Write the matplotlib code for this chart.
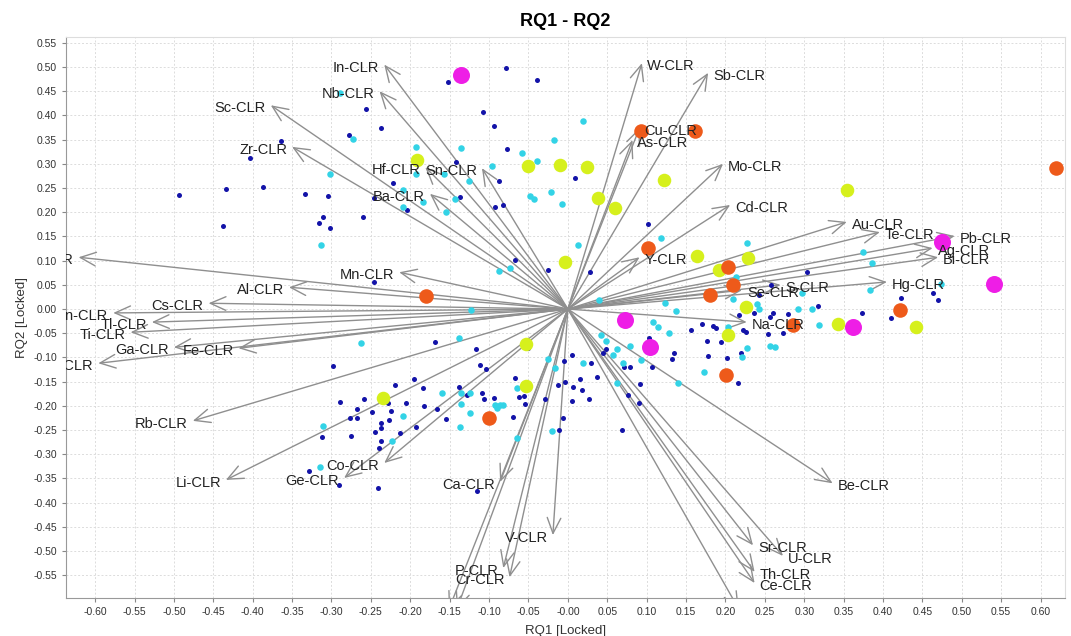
import matplotlib

matplotlib.use("Agg")
import matplotlib.pyplot as plt
import numpy as np
from matplotlib.patches import FancyArrowPatch
from matplotlib.ticker import FormatStrFormatter, MultipleLocator
from matplotlib.transforms import offset_copy

plt.rcParams["font.family"] = ["Liberation Sans", "DejaVu Sans"]

# loading vectors (RQ1, RQ2) of the CLR variables
var_names = ["In-CLR", "Nb-CLR", "Sc-CLR", "Zr-CLR", "Hf-CLR", "Sn-CLR", "Ba-CLR",
             "Mn-CLR", "Al-CLR", "Cs-CLR", "Zn-CLR", "Tl-CLR", "Ti-CLR", "Ga-CLR",
             "Fe-CLR", "Mg-CLR", "K-CLR", "Rb-CLR", "Li-CLR", "Co-CLR", "Ge-CLR",
             "Ca-CLR", "P-CLR", "Cr-CLR", "V-CLR", "La-CLR", "Ni-CLR", "Sr-CLR",
             "U-CLR", "Th-CLR", "Ce-CLR", "Pr-CLR", "Be-CLR", "Na-CLR", "Se-CLR",
             "S-CLR", "Hg-CLR", "Bi-CLR", "Ag-CLR", "Pb-CLR", "Te-CLR", "Au-CLR",
             "Cd-CLR", "Mo-CLR", "Y-CLR", "As-CLR", "Cu-CLR", "W-CLR", "Sb-CLR"]
var_x = [-0.233, -0.239, -0.377, -0.350, -0.181, -0.109, -0.175,
         -0.214, -0.354, -0.456, -0.577, -0.528, -0.555, -0.500,
         -0.418, -0.596, -0.621, -0.476, -0.434, -0.233, -0.284,
         -0.086, -0.082, -0.074, -0.019, -0.151, -0.141, 0.235,
         0.273, 0.237, 0.237, 0.217, 0.336, 0.227, 0.221,
         0.270, 0.405, 0.470, 0.463, 0.491, 0.396, 0.354,
         0.206, 0.197, 0.091, 0.082, 0.091, 0.094, 0.178]
var_y = [0.505, 0.450, 0.421, 0.335, 0.293, 0.291, 0.238,
         0.076, 0.045, 0.012, -0.008, -0.027, -0.048, -0.079,
         -0.081, -0.112, 0.107, -0.231, -0.353, -0.318, -0.349,
         -0.357, -0.535, -0.554, -0.467, -0.620, -0.620, -0.488,
         -0.510, -0.543, -0.566, -0.620, -0.360, -0.027, 0.039,
         0.050, 0.056, 0.107, 0.126, 0.151, 0.159, 0.180,
         0.215, 0.300, 0.107, 0.349, 0.374, 0.508, 0.488]

# sample scores, by group
blue_x = [-0.256, -0.237, -0.278, -0.364, -0.404, -0.434, -0.387, -0.494, -0.334, -0.305,
          -0.222, -0.260, -0.311, -0.316, -0.302, -0.438, -0.246, -0.079, -0.152, -0.039,
          -0.108, -0.094, -0.077, -0.142, -0.088, -0.137, -0.093, -0.082, 0.009, 0.057,
          0.102, -0.204, -0.067, -0.025, 0.028, -0.168, -0.117, -0.112, -0.104, -0.195,
          -0.184, -0.183, -0.206, -0.166, -0.155, -0.193, -0.213, -0.138, -0.128, -0.109,
          -0.107, -0.094, -0.067, -0.062, -0.056, -0.055, -0.051, -0.070, -0.029, -0.013,
          -0.005, 0.005, -0.003, 0.006, 0.015, 0.018, 0.005, 0.027, -0.006, -0.011,
          0.069, 0.029, 0.037, 0.049, 0.044, 0.071, 0.079, 0.091, 0.076, 0.090,
          0.103, 0.107, 0.135, 0.132, 0.156, 0.170, 0.176, 0.178, 0.194, 0.202,
          0.184, 0.188, 0.303, 0.258, 0.242, 0.423, 0.464, 0.470, 0.317, 0.260,
          0.280, 0.236, 0.256, 0.373, 0.410, 0.217, 0.222, 0.226, 0.254, 0.220,
          0.216, -0.246, -0.298, -0.220, -0.259, -0.289, -0.268, -0.249, -0.228, -0.225,
          -0.277, -0.268, -0.237, -0.237, -0.227, -0.245, -0.275, -0.312, -0.237, -0.240,
          -0.329, -0.291, -0.241, -0.115, 0.273]
blue_y = [0.413, 0.374, 0.359, 0.347, 0.312, 0.248, 0.252, 0.236, 0.238, 0.233,
          0.260, 0.190, 0.190, 0.178, 0.167, 0.171, 0.229, 0.498, 0.469, 0.473,
          0.407, 0.378, 0.331, 0.304, 0.264, 0.231, 0.211, 0.215, 0.271, 0.213,
          0.176, 0.205, 0.101, 0.081, 0.076, -0.068, -0.083, -0.116, -0.124, -0.145,
          -0.163, -0.200, -0.194, -0.207, -0.227, -0.244, -0.256, -0.161, -0.178, -0.174,
          -0.186, -0.184, -0.143, -0.182, -0.180, -0.196, -0.081, -0.223, -0.186, -0.157,
          -0.107, -0.095, -0.151, -0.161, -0.145, -0.167, -0.190, -0.186, -0.225, -0.250,
          -0.250, -0.112, -0.140, -0.083, -0.091, -0.120, -0.120, -0.155, -0.178, -0.194,
          -0.060, -0.120, -0.091, -0.103, -0.043, -0.031, -0.066, -0.097, -0.068, -0.101,
          -0.035, -0.039, 0.076, 0.050, 0.029, 0.023, 0.033, 0.019, 0.006, -0.008,
          -0.010, -0.008, -0.017, -0.008, -0.019, -0.012, -0.043, -0.048, -0.052, -0.091,
          -0.153, 0.056, -0.118, -0.157, -0.186, -0.192, -0.207, -0.213, -0.194, -0.211,
          -0.225, -0.225, -0.236, -0.246, -0.229, -0.254, -0.262, -0.264, -0.273, -0.287,
          -0.335, -0.364, -0.370, -0.376, -0.050]

cyan_x = [-0.289, -0.273, -0.302, -0.313, -0.209, -0.209, 0.019, -0.018, -0.193, -0.135,
          -0.058, -0.039, -0.096, -0.193, -0.157, -0.126, -0.013, -0.022, -0.048, -0.043,
          -0.008, -0.143, -0.184, -0.155, 0.013, 0.118, 0.099, -0.088, -0.074, -0.123,
          -0.138, -0.025, -0.016, 0.019, 0.039, 0.042, 0.048, 0.057, 0.062, 0.070,
          0.079, 0.093, 0.108, 0.114, 0.128, 0.123, 0.137, -0.065, -0.160, -0.136,
          -0.124, -0.135, -0.124, -0.093, -0.086, -0.082, -0.090, -0.137, -0.209, -0.065,
          -0.020, 0.062, 0.140, 0.173, 0.209, 0.203, 0.228, 0.374, 0.386, 0.214,
          0.383, 0.297, 0.240, 0.242, 0.292, 0.310, 0.319, 0.256, 0.263, 0.227,
          0.221, 0.473, -0.263, -0.311, -0.223, -0.315]
cyan_y = [0.446, 0.351, 0.279, 0.132, 0.211, 0.246, 0.388, 0.349, 0.335, 0.333,
          0.322, 0.306, 0.295, 0.279, 0.279, 0.264, 0.298, 0.242, 0.233, 0.227,
          0.217, 0.227, 0.221, 0.200, 0.132, 0.147, 0.120, 0.079, 0.085, -0.002,
          -0.060, -0.103, -0.122, -0.112, 0.019, -0.054, -0.066, -0.095, -0.083, -0.112,
          -0.076, -0.105, -0.027, -0.037, -0.050, 0.012, -0.004, -0.163, -0.174, -0.174,
          -0.174, -0.196, -0.215, -0.198, -0.198, -0.198, -0.205, -0.244, -0.221, -0.267,
          -0.252, -0.153, -0.153, -0.130, 0.021, -0.037, 0.136, 0.118, 0.095, 0.066,
          0.039, 0.033, 0.010, 0.000, 0.000, 0.000, -0.033, -0.076, -0.079, -0.081,
          -0.099, 0.052, -0.070, -0.242, -0.273, -0.326]

lime_x = [-0.192, -0.051, -0.010, 0.024, 0.122, 0.038, 0.060, 0.354, -0.003, 0.164,
          0.192, 0.229, 0.226, 0.343, 0.442, 0.203, -0.053, -0.053, -0.235]
lime_y = [0.308, 0.295, 0.298, 0.293, 0.267, 0.229, 0.209, 0.246, 0.097, 0.110,
          0.081, 0.106, 0.004, -0.031, -0.037, -0.054, -0.072, -0.159, -0.184]

orange_x = [0.093, 0.161, 0.619, 0.102, 0.203, 0.209, 0.180, -0.180, 0.421, 0.286,
            0.201, -0.100]
orange_y = [0.368, 0.368, 0.291, 0.126, 0.087, 0.050, 0.029, 0.027, -0.002, -0.033,
            -0.136, -0.225]

magenta_x = [-0.136, 0.072, 0.104, 0.475, 0.541, 0.362]
magenta_y = [0.483, -0.023, -0.079, 0.138, 0.052, -0.037]

fig = plt.figure(figsize=(10.71, 6.36), dpi=100)
ax = fig.add_axes([0.0616, 0.0597, 0.9328, 0.8821])
ax.set_xlim(-0.637, 0.631)
ax.set_ylim(-0.597, 0.562)

ax.xaxis.set_major_locator(MultipleLocator(0.05))
ax.yaxis.set_major_locator(MultipleLocator(0.05))
ax.xaxis.set_major_formatter(FormatStrFormatter("%.2f"))
ax.yaxis.set_major_formatter(FormatStrFormatter("%.2f"))
ax.tick_params(labelsize=7.5, length=3, color="#888888", labelcolor="#333333")
for lab in ax.get_xticklabels() + ax.get_yticklabels():
    lab.set_family(["Liberation Sans Narrow", "Liberation Sans"])
ax.grid(True, color="#dcdcdc", linestyle=(0, (2, 2)), lw=0.7)
ax.set_axisbelow(True)
for side in ("top", "right"):
    ax.spines[side].set_color("#dddddd")
for side in ("left", "bottom"):
    ax.spines[side].set_color("#999999")

arrow_col = "#8f8f8f"
for name, vx, vy in zip(var_names, var_x, var_y):
    ax.add_patch(FancyArrowPatch((0, 0), (vx, vy),
                                 arrowstyle="->,head_length=0.8,head_width=0.35",
                                 mutation_scale=14, color=arrow_col, lw=1.0,
                                 shrinkA=0, shrinkB=0, zorder=2))

ax.scatter(blue_x, blue_y, s=13, c="#1313a8", lw=0, zorder=3)
ax.scatter(cyan_x, cyan_y, s=22, c="#33d3e6", lw=0, zorder=3)
ax.scatter(lime_x, lime_y, s=95, c="#d6f01c", lw=0, zorder=4)
ax.scatter(orange_x, orange_y, s=110, c="#ee5a1a", lw=0, zorder=4)
ax.scatter(magenta_x, magenta_y, s=150, c="#ee1ee6", lw=0, zorder=4)

ylo = ax.get_ylim()[0]
for name, vx, vy in zip(var_names, var_x, var_y):
    if vy < ylo:
        continue  # tip falls below the frame, label not shown
    left = vx < 0
    tr = offset_copy(ax.transData, fig=fig, x=-5 if left else 5, y=-3, units="dots")
    ax.text(vx, vy, name, transform=tr, ha="right" if left else "left", va="center",
            fontsize=10.5, color="#222222", clip_on=True, zorder=5)

ax.set_title("RQ1 - RQ2", fontsize=13, fontweight="bold", pad=8)
ax.set_xlabel("RQ1 [Locked]", fontsize=9.5, color="#333333", labelpad=6)
ax.set_ylabel("RQ2 [Locked]", fontsize=9.5, color="#333333", labelpad=4)

fig.savefig("out.png", dpi=100)
